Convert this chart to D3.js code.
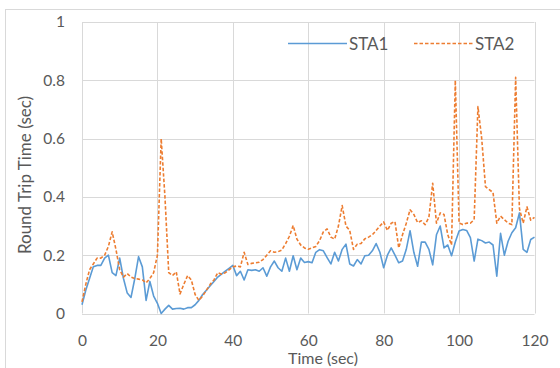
<!DOCTYPE html>
<html>
<head>
<meta charset="utf-8">
<script src="https://cdn.jsdelivr.net/npm/d3@7"></script>
<style>
  html, body { margin: 0; padding: 0; background: #fff; }
  svg text { font-family: Lato, "Open Sans", sans-serif; fill: #595959; }
</style>
</head>
<body>
<div id="chart"></div>
<script>
// x values: one sample per second
const seconds = [
    0, 1, 2, 3, 4, 5, 6, 7, 8, 9,
    10, 11, 12, 13, 14, 15, 16, 17, 18, 19,
    20, 21, 22, 23, 24, 25, 26, 27, 28, 29,
    30, 31, 32, 33, 34, 35, 36, 37, 38, 39,
    40, 41, 42, 43, 44, 45, 46, 47, 48, 49,
    50, 51, 52, 53, 54, 55, 56, 57, 58, 59,
    60, 61, 62, 63, 64, 65, 66, 67, 68, 69,
    70, 71, 72, 73, 74, 75, 76, 77, 78, 79,
    80, 81, 82, 83, 84, 85, 86, 87, 88, 89,
    90, 91, 92, 93, 94, 95, 96, 97, 98, 99,
    100, 101, 102, 103, 104, 105, 106, 107, 108, 109,
    110, 111, 112, 113, 114, 115, 116, 117, 118, 119, 120
];

const sta1 = [
    0.03, 0.08, 0.12, 0.16, 0.165, 0.165, 0.19, 0.2, 0.14, 0.13,
    0.19, 0.12, 0.07, 0.055, 0.12, 0.195, 0.16, 0.045, 0.11, 0.06,
    0.035, 0.0, 0.015, 0.028, 0.015, 0.017, 0.018, 0.015, 0.02, 0.02,
    0.03, 0.045, 0.065, 0.08, 0.095, 0.11, 0.125, 0.135, 0.145, 0.155,
    0.165, 0.13, 0.145, 0.115, 0.15, 0.148, 0.15, 0.145, 0.157, 0.128,
    0.16, 0.18, 0.157, 0.145, 0.19, 0.145, 0.198, 0.15, 0.19, 0.175,
    0.178, 0.174, 0.21, 0.219, 0.215, 0.192, 0.17, 0.21, 0.18, 0.22,
    0.238, 0.17, 0.163, 0.185, 0.17, 0.198, 0.2, 0.215, 0.24, 0.21,
    0.157, 0.2, 0.225, 0.2, 0.174, 0.18, 0.22, 0.284, 0.21, 0.162,
    0.245, 0.245, 0.22, 0.167, 0.27, 0.3, 0.225, 0.235, 0.198, 0.245,
    0.283, 0.288, 0.285, 0.26, 0.18, 0.255, 0.25, 0.242, 0.245, 0.235,
    0.128, 0.275, 0.2, 0.248, 0.277, 0.294, 0.345, 0.22, 0.21, 0.254, 0.262
];

const sta2 = [
    0.04, 0.1, 0.15, 0.17, 0.19, 0.19, 0.2, 0.23, 0.28, 0.22,
    0.15, 0.125, 0.137, 0.125, 0.12, 0.118, 0.115, 0.105, 0.12, 0.14,
    0.2, 0.6, 0.4, 0.14, 0.13, 0.143, 0.067, 0.1, 0.13, 0.115,
    0.065, 0.045, 0.06, 0.08, 0.1, 0.115, 0.14, 0.135, 0.14, 0.15,
    0.16, 0.163, 0.16, 0.21, 0.168, 0.172, 0.174, 0.176, 0.185, 0.2,
    0.215, 0.21, 0.212, 0.218, 0.24, 0.265, 0.302, 0.255, 0.235, 0.225,
    0.22, 0.225, 0.23, 0.25, 0.28, 0.29, 0.262, 0.255, 0.3, 0.37,
    0.3, 0.285, 0.22, 0.238, 0.24, 0.256, 0.262, 0.27, 0.285, 0.3,
    0.314, 0.285, 0.31, 0.315, 0.225, 0.27, 0.31, 0.356, 0.34, 0.312,
    0.318, 0.305, 0.33, 0.447, 0.31, 0.345, 0.34, 0.27, 0.235, 0.8,
    0.31, 0.305, 0.31, 0.31, 0.322, 0.71, 0.6, 0.435, 0.425, 0.415,
    0.31, 0.334, 0.322, 0.31, 0.305, 0.81, 0.36, 0.31, 0.366, 0.32, 0.33
];

const xTicks = [0, 20, 40, 60, 80, 100, 120];
const yTicks = [0, 0.2, 0.4, 0.6, 0.8, 1];
const seriesNames = ['STA1', 'STA2'];

const width = 560, height = 368;
const plot = { left: 82, right: 534.5, top: 22, bottom: 313.5 };

const svg = d3.select('#chart').append('svg')
    .attr('width', width)
    .attr('height', height);

// outer chart frame (only top/left visible in the crop)
svg.append('rect')
    .attr('x', 5.5).attr('y', 9.5)
    .attr('width', 600).attr('height', 400)
    .attr('fill', 'none')
    .attr('stroke', '#d9d9d9');

const x = d3.scaleLinear().domain([0, 120]).range([plot.left, plot.right]);
const y = d3.scaleLinear().domain([0, 1]).range([plot.bottom, plot.top]);

// gridlines
const grid = svg.append('g').attr('stroke', '#d9d9d9').attr('stroke-width', 1);
grid.selectAll('.h').data(yTicks).join('line')
    .attr('x1', plot.left).attr('x2', plot.right)
    .attr('y1', d => Math.round(y(d)) + 0.5).attr('y2', d => Math.round(y(d)) + 0.5);
grid.selectAll('.v').data(xTicks).join('line')
    .attr('y1', plot.top).attr('y2', plot.bottom)
    .attr('x1', d => Math.round(x(d)) + 0.5).attr('x2', d => Math.round(x(d)) + 0.5);

// axes (labels only, lines come from the grid)
const xAxis = svg.append('g')
    .attr('transform', `translate(0,${plot.bottom})`)
    .call(d3.axisBottom(x).tickValues(xTicks).tickSize(0).tickPadding(21));
const yAxis = svg.append('g')
    .attr('transform', `translate(${plot.left},0)`)
    .call(d3.axisLeft(y).tickValues(yTicks).tickSize(0).tickPadding(17).tickFormat(d3.format('~g')));
[xAxis, yAxis].forEach(a => {
    a.select('.domain').remove();
    a.selectAll('text').attr('font-family', null).style('font-size', '15.5px').attr('fill', '#595959');
});

// axis titles
svg.append('text')
    .attr('x', 323).attr('y', 363.5)
    .attr('text-anchor', 'middle')
    .style('font-size', '16px')
    .text('Time (sec)');
svg.append('text')
    .attr('transform', 'translate(31,175) rotate(-90)')
    .attr('text-anchor', 'middle')
    .style('font-size', '17px')
    .text('Round Trip Time (sec)');

// series
const line = d3.line()
    .x((d, i) => x(seconds[i]))
    .y(d => y(d));

svg.append('path')
    .datum(sta1)
    .attr('fill', 'none')
    .attr('stroke', '#5b9bd5')
    .attr('stroke-width', 1.6)
    .attr('stroke-linejoin', 'round')
    .attr('d', line);

svg.append('path')
    .datum(sta2)
    .attr('fill', 'none')
    .attr('stroke', '#ed7d31')
    .attr('stroke-width', 1.6)
    .attr('stroke-dasharray', '3.5,2')
    .attr('stroke-linejoin', 'round')
    .attr('d', line);

// legend
const legend = svg.append('g');
const legendItems = [
    { name: seriesNames[0], color: '#5b9bd5', dash: null, x0: 288 },
    { name: seriesNames[1], color: '#ed7d31', dash: '3.5,2', x0: 414 }
];
legendItems.forEach(it => {
    legend.append('line')
        .attr('x1', it.x0).attr('x2', it.x0 + 59)
        .attr('y1', 43.5).attr('y2', 43.5)
        .attr('stroke', it.color)
        .attr('stroke-width', 1.6)
        .attr('stroke-dasharray', it.dash);
    legend.append('text')
        .attr('x', it.x0 + 61).attr('y', 49.5)
        .style('font-size', '17px')
        .text(it.name);
});
</script>
</body>
</html>
